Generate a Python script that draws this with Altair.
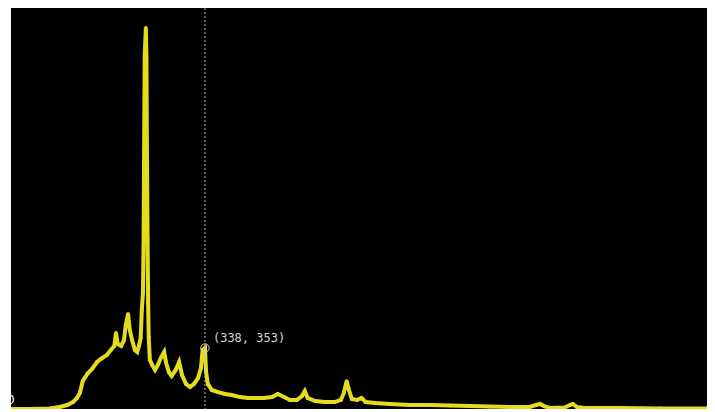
import altair as alt
import pandas as pd

# Histogram-like trace values (x = bin, y = count)
x_vals = [0, 33, 68, 85, 98, 108, 115, 120, 125, 134, 141, 150, 159, 167, 174, 180,
          183, 186, 192, 197, 200, 204, 207, 211, 216, 220, 223, 226, 228, 230, 231,
          232, 233, 235, 236, 237, 238, 239, 240, 242, 246, 251, 256, 261, 267, 270,
          275, 280, 287, 293, 298, 305, 312, 319, 326, 331, 334, 338, 340, 343, 350,
          361, 373, 385, 399, 413, 427, 441, 455, 465, 476, 486, 498, 507, 512, 517,
          530, 547, 564, 575, 580, 585, 589, 594, 603, 611, 618, 634, 660, 695, 730,
          765, 800, 834, 869, 904, 915, 922, 929, 939, 965, 974, 979, 986, 1000, 1061,
          1131, 1213]
y_vals = [0, 0, 3, 12, 23, 40, 64, 93, 162, 208, 231, 272, 295, 312, 341, 365,
          440, 376, 365, 399, 486, 550, 457, 399, 341, 330, 365, 411, 573, 671, 943,
          1487, 2037, 2205, 2037, 1441, 978, 613, 417, 284, 255, 226, 255, 295, 330, 272,
          214, 191, 226, 272, 197, 145, 127, 145, 179, 237, 341, 353, 214, 145, 110,
          98, 87, 81, 69, 64, 64, 64, 69, 87, 69, 52, 52, 75, 104, 64,
          46, 40, 40, 52, 93, 162, 110, 58, 52, 64, 40, 35, 29, 23, 23,
          20, 17, 14, 12, 12, 23, 29, 17, 6, 9, 23, 29, 12, 6, 6,
          3, 3]

ann_x = [338]
ann_y = [353]
ann_label = ["(338, 353)"]

YEL = "#e4dc1c"

df = pd.DataFrame({"x": x_vals, "y": y_vals})
ann = pd.DataFrame({"x": ann_x, "y": ann_y, "label": ann_label})
zero = pd.DataFrame({"x": [0], "y": [0], "label": ["0"]})

xs = alt.Scale(domain=[0, 1213], nice=False, zero=False)
ys = alt.Scale(domain=[0, 2320], nice=False)

X = alt.X("x:Q", scale=xs, axis=None)
Y = alt.Y("y:Q", scale=ys, axis=None)

line = alt.Chart(df).mark_line(color=YEL, strokeWidth=4, clip=True).encode(x=X, y=Y)
pts = alt.Chart(df).mark_point(color=YEL, filled=True, size=14, opacity=1, clip=True).encode(x=X, y=Y)

vline = alt.Chart(ann).mark_rule(color="#bdbdbd", strokeDash=[2, 2], strokeWidth=1).encode(x=X)
circ = alt.Chart(ann).mark_point(shape="circle", filled=False, size=70, color="#d0d0d0",
                                 strokeWidth=1, opacity=1).encode(x=X, y=Y)
txt = alt.Chart(ann).mark_text(align="left", baseline="middle", dx=8, dy=-10,
                               font="DejaVu Sans Mono", fontSize=12, color="#d6d6d6").encode(
    x=X, y=Y, text="label:N")
zlab = alt.Chart(zero).mark_text(align="left", baseline="middle", dx=-4, dy=-9,
                                 font="DejaVu Sans", fontSize=12, color="#ffffff").encode(
    x=X, y=Y, text="label:N")

chart = alt.layer(line, pts, vline, circ, txt, zlab).properties(
    width=696, height=401,
    background="white",
    padding={"left": 3, "top": 0, "right": 0, "bottom": 0},
    autosize=alt.AutoSizeParams(type="none"),
).configure_view(fill="black", strokeWidth=0)

chart.save("out.html", embed_options={"renderer": "svg", "actions": False})
